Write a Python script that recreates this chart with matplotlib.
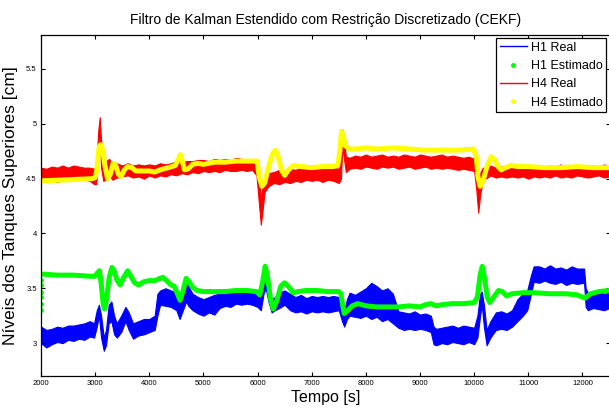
import numpy as np
import matplotlib
matplotlib.use('Agg')
import matplotlib.pyplot as plt
from matplotlib.lines import Line2D

plt.rcParams['font.family'] = ['Liberation Sans', 'DejaVu Sans']

# H1 real (nivel medido) - envelope of the noisy band
h1_t = [2000, 2100, 2200, 2300, 2400, 2500, 2600, 2700, 2800, 2900, 2980,
        3030, 3070, 3110, 3160, 3200, 3250, 3300, 3350, 3400, 3480, 3560,
        3620, 3700, 3800, 3900, 4000, 4100, 4150, 4200, 4300, 4400, 4500,
        4560, 4620, 4680, 4720, 4800, 4900, 5000, 5100, 5200, 5300, 5400,
        5500, 5600, 5700, 5800, 5900, 6000, 6060, 6110, 6150, 6200, 6260,
        6320, 6400, 6500, 6600, 6700, 6800, 6900, 7000, 7100, 7200, 7300,
        7400, 7500, 7560, 7600, 7650, 7700, 7800, 7900, 8000, 8100, 8200,
        8300, 8400, 8500, 8600, 8700, 8800, 8900, 9000, 9100, 9200, 9250,
        9300, 9400, 9500, 9600, 9700, 9800, 9900, 10000, 10060, 10110,
        10140, 10180, 10230, 10300, 10400, 10500, 10600, 10700, 10800,
        10900, 10980, 11050, 11100, 11200, 11300, 11400, 11500, 11600,
        11700, 11800, 11900, 12030, 12060, 12100, 12200, 12300, 12400, 12500]
h1_lo = [3.00, 2.96, 2.99, 3.01, 3.00, 3.03, 3.02, 3.04, 3.03, 3.06, 3.05,
         3.15, 3.25, 3.05, 2.93, 2.98, 3.18, 3.20, 3.08, 3.05, 3.10, 3.20,
         3.12, 3.04, 3.07, 3.08, 3.10, 3.12, 3.25, 3.35, 3.34, 3.33, 3.30,
         3.22, 3.30, 3.38, 3.34, 3.30, 3.27, 3.25, 3.28, 3.26, 3.32, 3.34,
         3.33, 3.36, 3.35, 3.36, 3.35, 3.33, 3.30, 3.45, 3.50, 3.38, 3.28,
         3.30, 3.32, 3.35, 3.30, 3.28, 3.29, 3.27, 3.29, 3.28, 3.29, 3.28,
         3.29, 3.30, 3.20, 3.15, 3.22, 3.25, 3.24, 3.23, 3.25, 3.22, 3.24,
         3.20, 3.22, 3.18, 3.14, 3.12, 3.13, 3.12, 3.13, 3.12, 3.10, 2.99,
         2.98, 3.00, 2.99, 3.01, 3.00, 2.99, 3.01, 2.99, 3.05, 3.25,
         3.35, 3.15, 2.98, 3.05, 3.12, 3.13, 3.12, 3.15, 3.20,
         3.25, 3.30, 3.45, 3.56, 3.55, 3.57, 3.55, 3.54, 3.56,
         3.53, 3.55, 3.54, 3.55, 3.33, 3.30, 3.32, 3.31, 3.30, 3.32]
h1_hi = [3.15, 3.12, 3.13, 3.15, 3.14, 3.16, 3.16, 3.17, 3.18, 3.20, 3.18,
         3.30, 3.35, 3.25, 3.05, 3.12, 3.35, 3.38, 3.25, 3.18, 3.25, 3.33,
         3.28, 3.18, 3.20, 3.22, 3.22, 3.25, 3.45, 3.48, 3.50, 3.48, 3.46,
         3.40, 3.48, 3.60, 3.52, 3.45, 3.42, 3.40, 3.42, 3.44, 3.45, 3.48,
         3.47, 3.46, 3.47, 3.47, 3.46, 3.45, 3.42, 3.60, 3.64, 3.52, 3.40,
         3.42, 3.46, 3.48, 3.45, 3.42, 3.44, 3.41, 3.43, 3.42, 3.43, 3.42,
         3.43, 3.42, 3.36, 3.30, 3.40, 3.46, 3.44, 3.47, 3.50, 3.55, 3.52,
         3.48, 3.50, 3.45, 3.29, 3.28, 3.27, 3.29, 3.26, 3.27, 3.25, 3.15,
         3.13, 3.14, 3.15, 3.16, 3.14, 3.16, 3.15, 3.14, 3.25, 3.45,
         3.47, 3.35, 3.12, 3.20, 3.28, 3.29, 3.27, 3.30, 3.40,
         3.45, 3.48, 3.62, 3.70, 3.70, 3.68, 3.71, 3.68, 3.69,
         3.67, 3.70, 3.68, 3.68, 3.50, 3.46, 3.45, 3.47, 3.45, 3.46]

# H1 estimado
h1e_t = [2000, 2300, 2600, 2900, 3000, 3040, 3080, 3110, 3150, 3175, 3210,
         3260, 3310, 3350, 3400, 3460, 3530, 3600, 3660, 3730, 3800, 3900,
         4000, 4100, 4200, 4250, 4320, 4400, 4460, 4520, 4570, 4620, 4680,
         4720, 4800, 4880, 5000, 5200, 5400, 5600, 5800, 5980, 6040, 6090,
         6140, 6180, 6240, 6290, 6350, 6430, 6500, 6580, 6660, 6750, 6900,
         7100, 7300, 7500, 7540, 7570, 7600, 7650, 7750, 7850, 8000, 8200,
         8400, 8600, 8800, 9000, 9100, 9200, 9300, 9400, 9600, 9800, 10000,
         10060, 10110, 10150, 10190, 10240, 10290, 10360, 10450, 10520,
         10600, 10700, 10900, 11100, 11400, 11700, 11900, 12050, 12150,
         12300, 12500]
h1e_v = [3.63, 3.62, 3.62, 3.61, 3.61, 3.64, 3.66, 3.55, 3.35, 3.31, 3.40,
         3.60, 3.69, 3.66, 3.58, 3.53, 3.60, 3.66, 3.61, 3.55, 3.53, 3.56,
         3.57, 3.57, 3.59, 3.60, 3.57, 3.53, 3.52, 3.45, 3.39, 3.47, 3.59,
         3.57, 3.51, 3.48, 3.47, 3.47, 3.47, 3.48, 3.48, 3.47, 3.44, 3.55,
         3.70, 3.62, 3.40, 3.31, 3.38, 3.52, 3.55, 3.51, 3.46, 3.47, 3.48,
         3.48, 3.47, 3.47, 3.45, 3.35, 3.27, 3.29, 3.34, 3.36, 3.34, 3.33,
         3.33, 3.33, 3.34, 3.33, 3.35, 3.36, 3.34, 3.35, 3.36, 3.36, 3.37,
         3.42, 3.62, 3.70, 3.60, 3.42, 3.37, 3.42, 3.48, 3.47,
         3.43, 3.45, 3.46, 3.46, 3.45, 3.45, 3.44, 3.41, 3.45,
         3.47, 3.48]
# primeiras amostras do estimador (transitorio inicial)
h1e_init_t = [2005, 2005, 2005, 2005, 2005, 2005]
h1e_init_v = [3.30, 3.36, 3.42, 3.47, 3.53, 3.58]

# H4 real
h4_t = [2000, 2100, 2200, 2300, 2400, 2500, 2600, 2700, 2800, 2900, 2980,
        3020, 3060, 3085, 3110, 3150, 3200, 3260, 3320, 3400, 3500, 3600,
        3700, 3800, 3900, 4000, 4100, 4200, 4300, 4400, 4500, 4600, 4700,
        4800, 4900, 5000, 5100, 5200, 5300, 5400, 5500, 5600, 5700, 5800,
        5900, 5980, 6020, 6060, 6090, 6130, 6200, 6300, 6400, 6500, 6600,
        6700, 6800, 6900, 7000, 7100, 7200, 7300, 7400, 7500, 7540, 7565,
        7590, 7630, 7700, 7800, 7900, 8000, 8100, 8200, 8300, 8400, 8500,
        8600, 8700, 8800, 8900, 9000, 9100, 9200, 9300, 9400, 9500, 9600,
        9700, 9800, 9900, 10000, 10040, 10075, 10110, 10160, 10250, 10300,
        10400, 10500, 10600, 10700, 10800, 10900, 11000, 11100, 11200,
        11300, 11400, 11500, 11600, 11700, 11800, 11900, 12000, 12100,
        12200, 12300, 12400, 12500]
h4_lo = [4.49, 4.48, 4.50, 4.47, 4.49, 4.50, 4.49, 4.50, 4.49, 4.48, 4.45,
         4.45, 4.70, 4.88, 4.60, 4.48, 4.49, 4.53, 4.49, 4.51, 4.52, 4.53,
         4.51, 4.52, 4.50, 4.53, 4.51, 4.53, 4.52, 4.54, 4.53, 4.55, 4.54,
         4.56, 4.55, 4.57, 4.56, 4.57, 4.56, 4.58, 4.57, 4.57, 4.58, 4.57,
         4.58, 4.53, 4.30, 4.08, 4.20, 4.38, 4.43, 4.46, 4.45, 4.47, 4.46,
         4.48, 4.47, 4.49, 4.48, 4.49, 4.47, 4.49, 4.48, 4.46, 4.50, 4.80,
         4.70, 4.56, 4.59, 4.60, 4.59, 4.61, 4.60, 4.59, 4.61, 4.60, 4.61,
         4.59, 4.60, 4.61, 4.59, 4.60, 4.61, 4.59, 4.60, 4.59, 4.60, 4.59,
         4.58, 4.59, 4.58, 4.57, 4.40, 4.19, 4.35, 4.49, 4.51, 4.53,
         4.51, 4.52, 4.51, 4.52, 4.51, 4.52, 4.50, 4.52, 4.51,
         4.52, 4.51, 4.53, 4.51, 4.52, 4.51, 4.53, 4.52, 4.51,
         4.52, 4.53, 4.51, 4.52]
h4_hi = [4.60, 4.59, 4.61, 4.60, 4.62, 4.60, 4.62, 4.61, 4.60, 4.60, 4.59,
         4.62, 4.95, 5.06, 4.85, 4.62, 4.66, 4.68, 4.62, 4.64, 4.62, 4.64,
         4.62, 4.63, 4.62, 4.63, 4.62, 4.64, 4.63, 4.64, 4.66, 4.65, 4.66,
         4.66, 4.67, 4.67, 4.66, 4.68, 4.67, 4.68, 4.67, 4.69, 4.68, 4.67,
         4.68, 4.66, 4.55, 4.30, 4.45, 4.52, 4.55, 4.56, 4.58, 4.57, 4.59,
         4.58, 4.60, 4.59, 4.61, 4.60, 4.60, 4.62, 4.60, 4.59, 4.70, 4.95,
         4.90, 4.70, 4.69, 4.71, 4.70, 4.72, 4.70, 4.71, 4.72, 4.70, 4.71,
         4.70, 4.72, 4.71, 4.70, 4.72, 4.71, 4.70, 4.71, 4.72, 4.70, 4.71,
         4.70, 4.69, 4.70, 4.68, 4.60, 4.40, 4.55, 4.60, 4.60, 4.62,
         4.60, 4.61, 4.62, 4.60, 4.61, 4.62, 4.60, 4.62, 4.61,
         4.60, 4.62, 4.61, 4.63, 4.60, 4.62, 4.61, 4.62, 4.60,
         4.62, 4.61, 4.63, 4.61]

# H4 estimado
h4e_t = [2000, 2500, 2950, 3000, 3030, 3070, 3100, 3140, 3180, 3230, 3280,
         3330, 3380, 3430, 3480, 3540, 3600, 3680, 3750, 3900, 4000, 4100,
         4200, 4350, 4480, 4540, 4575, 4610, 4650, 4720, 4800, 4900, 5000,
         5200, 5400, 5600, 5800, 5990, 6030, 6080, 6130, 6200, 6270, 6330,
         6390, 6450, 6500, 6570, 6660, 6800, 7000, 7200, 7400, 7480, 7520,
         7550, 7580, 7620, 7700, 7800, 8000, 8200, 8500, 8800, 9100, 9400,
         9700, 9990, 10040, 10070, 10110, 10160, 10230, 10315, 10380, 10440,
         10500, 10580, 10685, 10800, 11000, 11300, 11600, 11900, 12200, 12500]
h4e_v = [4.48, 4.49, 4.50, 4.51, 4.58, 4.78, 4.81, 4.76, 4.62, 4.50, 4.54,
         4.64, 4.62, 4.54, 4.52, 4.58, 4.61, 4.60, 4.57, 4.57, 4.57, 4.56,
         4.58, 4.60, 4.62, 4.68, 4.72, 4.66, 4.58, 4.59, 4.63, 4.64, 4.63,
         4.65, 4.65, 4.66, 4.66, 4.66, 4.52, 4.43, 4.46, 4.60, 4.72, 4.76,
         4.68, 4.57, 4.53, 4.58, 4.62, 4.61, 4.60, 4.61, 4.61, 4.62, 4.75,
         4.93, 4.90, 4.80, 4.77, 4.77, 4.78, 4.77, 4.78, 4.77, 4.76, 4.76,
         4.76, 4.77, 4.70, 4.52, 4.43, 4.47, 4.60, 4.70, 4.67, 4.61,
         4.58, 4.60, 4.62, 4.61, 4.61, 4.60, 4.60, 4.61, 4.60, 4.60]

xticks = [2000, 3000, 4000, 5000, 6000, 7000, 8000, 9000, 10000, 11000, 12000]
yticks = [3, 3.5, 4, 4.5, 5, 5.5]
ytick_labels = ['3', '3.5', '4', '4.5', '5', '5.5']

fig = plt.figure(figsize=(6.09, 4.08), dpi=100)
ax = fig.add_axes([41 / 609, 1 - 376 / 408, 568.5 / 609, (376 - 35) / 408])

ax.fill_between(h1_t, h1_lo, h1_hi, color='#0000ff', lw=0.8)
ax.plot(h1e_t, h1e_v, color='#00ff00', lw=3.6, solid_capstyle='round',
        solid_joinstyle='round')
ax.plot(h1e_init_t, h1e_init_v, '.', color='#00ff00', ms=5)
ax.fill_between(h4_t, h4_lo, h4_hi, color='#ff0000', lw=0.8)
ax.plot(h4e_t, h4e_v, color='#ffff00', lw=3.6, solid_capstyle='round',
        solid_joinstyle='round')

ax.set_xlim(2000, 12500)
ax.set_ylim(2.7, 5.81)
ax.set_xticks(xticks)
ax.set_xticklabels([str(v) for v in xticks])
ax.set_yticks(yticks)
ax.set_yticklabels(ytick_labels)
ax.tick_params(direction='in', length=3, width=0.8, labelsize=5.5, pad=3,
               top=True, right=True)
for s in ax.spines.values():
    s.set_linewidth(0.9)

ax.set_title('Filtro de Kalman Estendido com Restrição Discretizado (CEKF)',
             fontsize=10, pad=8)
ax.set_xlabel('Tempo [s]', fontsize=11.5, labelpad=2)
ax.set_ylabel('Níveis dos Tanques Superiores [cm]', fontsize=12.5, labelpad=6)

handles = [Line2D([], [], color='#0000ff', lw=1),
           Line2D([], [], color='#00ff00', marker='.', ls='none', ms=5),
           Line2D([], [], color='#ff0000', lw=1),
           Line2D([], [], color='#ffff00', marker='.', ls='none', ms=5)]
leg = ax.legend(handles, ['H1 Real', 'H1 Estimado', 'H4 Real', 'H4 Estimado'],
                loc='upper right', fontsize=9, fancybox=False, framealpha=1,
                edgecolor='black', borderaxespad=0.25, handlelength=2.2,
                handletextpad=0.3, labelspacing=0.5, borderpad=0.3)
leg.get_frame().set_linewidth(0.9)

fig.savefig('out.png', dpi=100)
